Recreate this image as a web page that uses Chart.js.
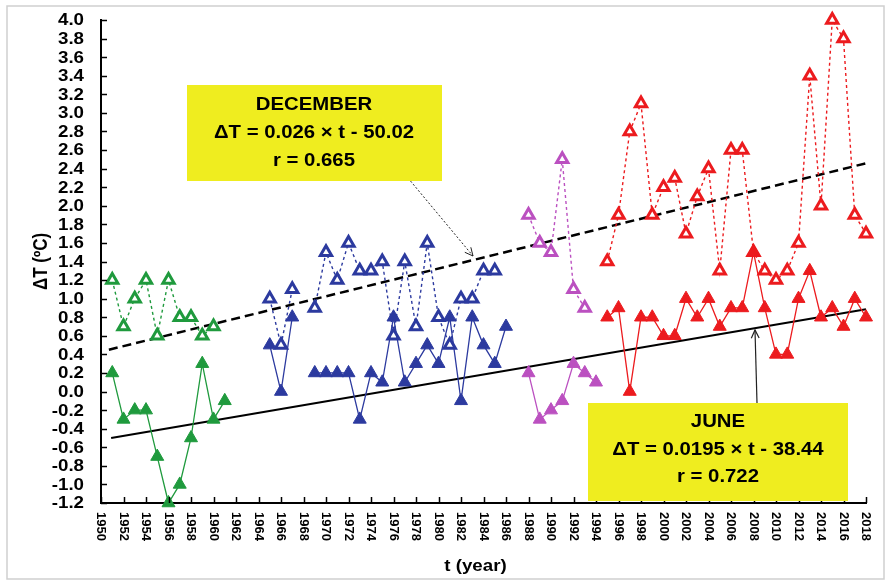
<!DOCTYPE html>
<html>
<head>
<meta charset="utf-8">
<script src="https://cdn.jsdelivr.net/npm/chart.js@4.4.0/dist/chart.umd.min.js"></script>
<style>
  html, body { margin: 0; padding: 0; background: #fff; }
</style>
</head>
<body>
<canvas id="tempChart" width="888" height="582"></canvas>
<script>
// ---- data (ΔT in ºC) ----
var greenYears = [1951, 1952, 1953, 1954, 1955, 1956, 1957, 1958, 1959, 1960, 1961];
var greenJune  = [0.2, -0.3, -0.2, -0.2, -0.7, -1.2, -1.0, -0.5, 0.3, -0.3, -0.1];
var greenDec   = [1.2, 0.7, 1.0, 1.2, 0.6, 1.2, 0.8, 0.8, 0.6, 0.7, null];

var blueYears = [1965, 1966, 1967, 1968, 1969, 1970, 1971, 1972, 1973, 1974, 1975,
                 1976, 1977, 1978, 1979, 1980, 1981, 1982, 1983, 1984, 1985, 1986];
var blueJune  = [0.5, 0.0, 0.8, null, 0.2, 0.2, 0.2, 0.2, -0.3, 0.2, 0.1,
                 0.8, 0.1, 0.3, 0.5, 0.3, 0.8, -0.1, 0.8, 0.5, 0.3, 0.7];
var blueDec   = [1.0, 0.5, 1.1, null, 0.9, 1.5, 1.2, 1.6, 1.3, 1.3, 1.4,
                 0.6, 1.4, 0.7, 1.6, 0.8, 0.5, 1.0, 1.0, 1.3, 1.3, null];

var magentaYears = [1988, 1989, 1990, 1991, 1992, 1993, 1994];
var magentaJune  = [0.2, -0.3, -0.2, -0.1, 0.3, 0.2, 0.1];
var magentaDec   = [1.9, 1.6, 1.5, 2.5, 1.1, 0.9, null];

var redYears = [1995, 1996, 1997, 1998, 1999, 2000, 2001, 2002, 2003, 2004, 2005, 2006,
                2007, 2008, 2009, 2010, 2011, 2012, 2013, 2014, 2015, 2016, 2017, 2018];
var redJune  = [0.8, 0.9, 0.0, 0.8, 0.8, 0.6, 0.6, 1.0, 0.8, 1.0, 0.7, 0.9,
                0.9, 1.5, 0.9, 0.4, 0.4, 1.0, 1.3, 0.8, 0.9, 0.7, 1.0, 0.8];
var redDec   = [1.4, 1.9, 2.8, 3.1, 1.9, 2.2, 2.3, 1.7, 2.1, 2.4, 1.3, 2.6,
                2.6, 1.5, 1.3, 1.2, 1.3, 1.6, 3.4, 2.0, 4.0, 3.8, 1.9, 1.7];

// trend lines as drawn in the figure
var decTrendYears  = [1950.7, 2018.1];
var decTrendValues = [0.45, 2.46];
var juneTrendYears  = [1950.9, 2018.0];
var juneTrendValues = [-0.50, 0.885];

// axis ticks
var yTickValues = [-1.2, -1.0, -0.8, -0.6, -0.4, -0.2, 0.0, 0.2, 0.4, 0.6, 0.8, 1.0, 1.2, 1.4,
                   1.6, 1.8, 2.0, 2.2, 2.4, 2.6, 2.8, 3.0, 3.2, 3.4, 3.6, 3.8, 4.0];
var xTickYears = [];
for (var yr = 1950; yr <= 2018; yr += 2) xTickYears.push(yr);

var decBox  = ['DECEMBER', 'ΔT = 0.026 × t - 50.02', 'r = 0.665'];
var juneBox = ['JUNE', 'ΔT = 0.0195 × t - 38.44', 'r = 0.722'];

function pts(years, vals) {
    return years.map(function(y, i) { return { x: y, y: vals[i] }; });
}

function juneSet(years, vals, color) {
    return {
        data: pts(years, vals),
        borderColor: color,
        borderWidth: 1.3,
        pointStyle: 'triangle',
        pointRadius: 7.5,
        pointBackgroundColor: color,
        pointBorderColor: color,
        pointBorderWidth: 1,
        spanGaps: false,
        clip: false
    };
}

function decSet(years, vals, color) {
    return {
        data: pts(years, vals),
        borderColor: color,
        borderWidth: 1.4,
        borderDash: [3, 3],
        pointStyle: 'triangle',
        pointRadius: 6.5,
        pointBackgroundColor: '#fff',
        pointBorderColor: color,
        pointBorderWidth: 3,
        spanGaps: false,
        clip: false
    };
}

var GREEN = '#1f9a3d', BLUE = '#2c3a9f', MAGENTA = '#bb50c0', RED = '#ec1b1e';

function stretchText(ctx, text, x, y, align, sx) {
    ctx.save();
    ctx.translate(x, y);
    ctx.scale(sx, 1);
    ctx.textAlign = align;
    ctx.fillText(text, 0, 0);
    ctx.restore();
}

function arrowHead(ctx, x0, y0, x1, y1) {
    var a = Math.atan2(y1 - y0, x1 - x0), len = 9, spread = 0.45;
    ctx.setLineDash([]);
    ctx.beginPath();
    ctx.moveTo(x1 - len * Math.cos(a - spread), y1 - len * Math.sin(a - spread));
    ctx.lineTo(x1, y1);
    ctx.lineTo(x1 - len * Math.cos(a + spread), y1 - len * Math.sin(a + spread));
    ctx.stroke();
}

var decorations = {
    id: 'decorations',
    afterDraw: function(chart) {
        var ctx = chart.ctx, xs = chart.scales.x, ys = chart.scales.y, area = chart.chartArea;
        ctx.save();

        // outer frame
        ctx.strokeStyle = '#cfcfcf';
        ctx.lineWidth = 1.5;
        ctx.strokeRect(7, 6, 877, 573);

        // inner ticks
        ctx.strokeStyle = '#000';
        ctx.lineWidth = 1.5;
        ctx.beginPath();
        yTickValues.forEach(function(v) {
            var py = Math.round(ys.getPixelForValue(v)) + 0.5;
            ctx.moveTo(area.left, py);
            ctx.lineTo(area.left + 6, py);
        });
        xTickYears.forEach(function(t) {
            var px = Math.round(xs.getPixelForValue(t)) + 0.5;
            ctx.moveTo(px, area.bottom);
            ctx.lineTo(px, area.bottom - 6);
        });
        ctx.stroke();

        // y labels
        ctx.fillStyle = '#000';
        ctx.textBaseline = 'middle';
        ctx.font = 'bold 16px "Liberation Sans", Arial, sans-serif';
        yTickValues.forEach(function(v) {
            stretchText(ctx, v.toFixed(1), 84, ys.getPixelForValue(v) + 1, 'right', 1.17);
        });

        // x labels, rotated clockwise
        ctx.font = 'bold 13px "Liberation Sans", Arial, sans-serif';
        xTickYears.forEach(function(t) {
            ctx.save();
            ctx.translate(xs.getPixelForValue(t), 512);
            ctx.rotate(Math.PI / 2);
            ctx.textAlign = 'left';
            ctx.fillText(String(t), 0, 0);
            ctx.restore();
        });

        // axis titles
        ctx.font = 'bold 17px "Liberation Sans", Arial, sans-serif';
        stretchText(ctx, 't (year)', (area.left + area.right) / 2 - 8, 566, 'center', 1.1);
        ctx.save();
        ctx.translate(42, (area.top + area.bottom) / 2);
        ctx.rotate(-Math.PI / 2);
        ctx.scale(1, 1.15);
        ctx.textAlign = 'center';
        ctx.fillText('ΔT (ºC)', 0, 0);
        ctx.restore();

        // callout arrows
        ctx.strokeStyle = '#222';
        ctx.lineWidth = 1;
        ctx.setLineDash([2, 2]);
        ctx.beginPath();
        ctx.moveTo(408, 178);
        ctx.lineTo(473, 256);
        ctx.stroke();
        arrowHead(ctx, 408, 178, 473, 256);

        ctx.lineWidth = 1.2;
        ctx.beginPath();
        ctx.moveTo(757, 403);
        ctx.lineTo(755, 330);
        ctx.stroke();
        arrowHead(ctx, 757, 403, 755, 330);

        // yellow boxes
        ctx.fillStyle = '#efed1f';
        ctx.fillRect(187, 85, 255, 96);
        ctx.fillRect(588, 403, 260, 98);
        ctx.fillStyle = '#000';
        ctx.font = 'bold 18px "Liberation Sans", Arial, sans-serif';
        var decLines = [105, 133, 161];
        decBox.forEach(function(s, i) { stretchText(ctx, s, 314, decLines[i], 'center', 1.13); });
        var juneLines = [422, 450, 477];
        juneBox.forEach(function(s, i) { stretchText(ctx, s, 718, juneLines[i], 'center', 1.13); });

        ctx.restore();
    }
};

var chart = new Chart(document.getElementById('tempChart').getContext('2d'), {
    type: 'line',
    data: {
        datasets: [
            juneSet(greenYears, greenJune, GREEN),
            decSet(greenYears, greenDec, GREEN),
            juneSet(blueYears, blueJune, BLUE),
            decSet(blueYears, blueDec, BLUE),
            juneSet(magentaYears, magentaJune, MAGENTA),
            decSet(magentaYears, magentaDec, MAGENTA),
            juneSet(redYears, redJune, RED),
            decSet(redYears, redDec, RED),
            {
                data: pts(decTrendYears, decTrendValues),
                borderColor: '#000',
                borderWidth: 2.5,
                borderDash: [9, 5],
                pointRadius: 0,
                clip: false
            },
            {
                data: pts(juneTrendYears, juneTrendValues),
                borderColor: '#000',
                borderWidth: 2,
                pointRadius: 0,
                clip: false
            }
        ]
    },
    options: {
        responsive: false,
        animation: false,
        layout: { padding: { left: 101, right: 22, top: 20, bottom: 79 } },
        plugins: {
            legend: { display: false },
            tooltip: { enabled: false }
        },
        scales: {
            x: {
                type: 'linear',
                min: 1950,
                max: 2018,
                ticks: { display: false, stepSize: 2 },
                grid: { display: false, drawTicks: false },
                border: { display: true, color: '#000', width: 2 },
                afterFit: function(s) { s.height = 0; }
            },
            y: {
                min: -1.2,
                max: 4.0,
                ticks: { display: false, stepSize: 0.2 },
                grid: { display: false, drawTicks: false },
                border: { display: true, color: '#000', width: 2 },
                afterFit: function(s) { s.width = 0; }
            }
        }
    },
    plugins: [decorations]
});
</script>
</body>
</html>
